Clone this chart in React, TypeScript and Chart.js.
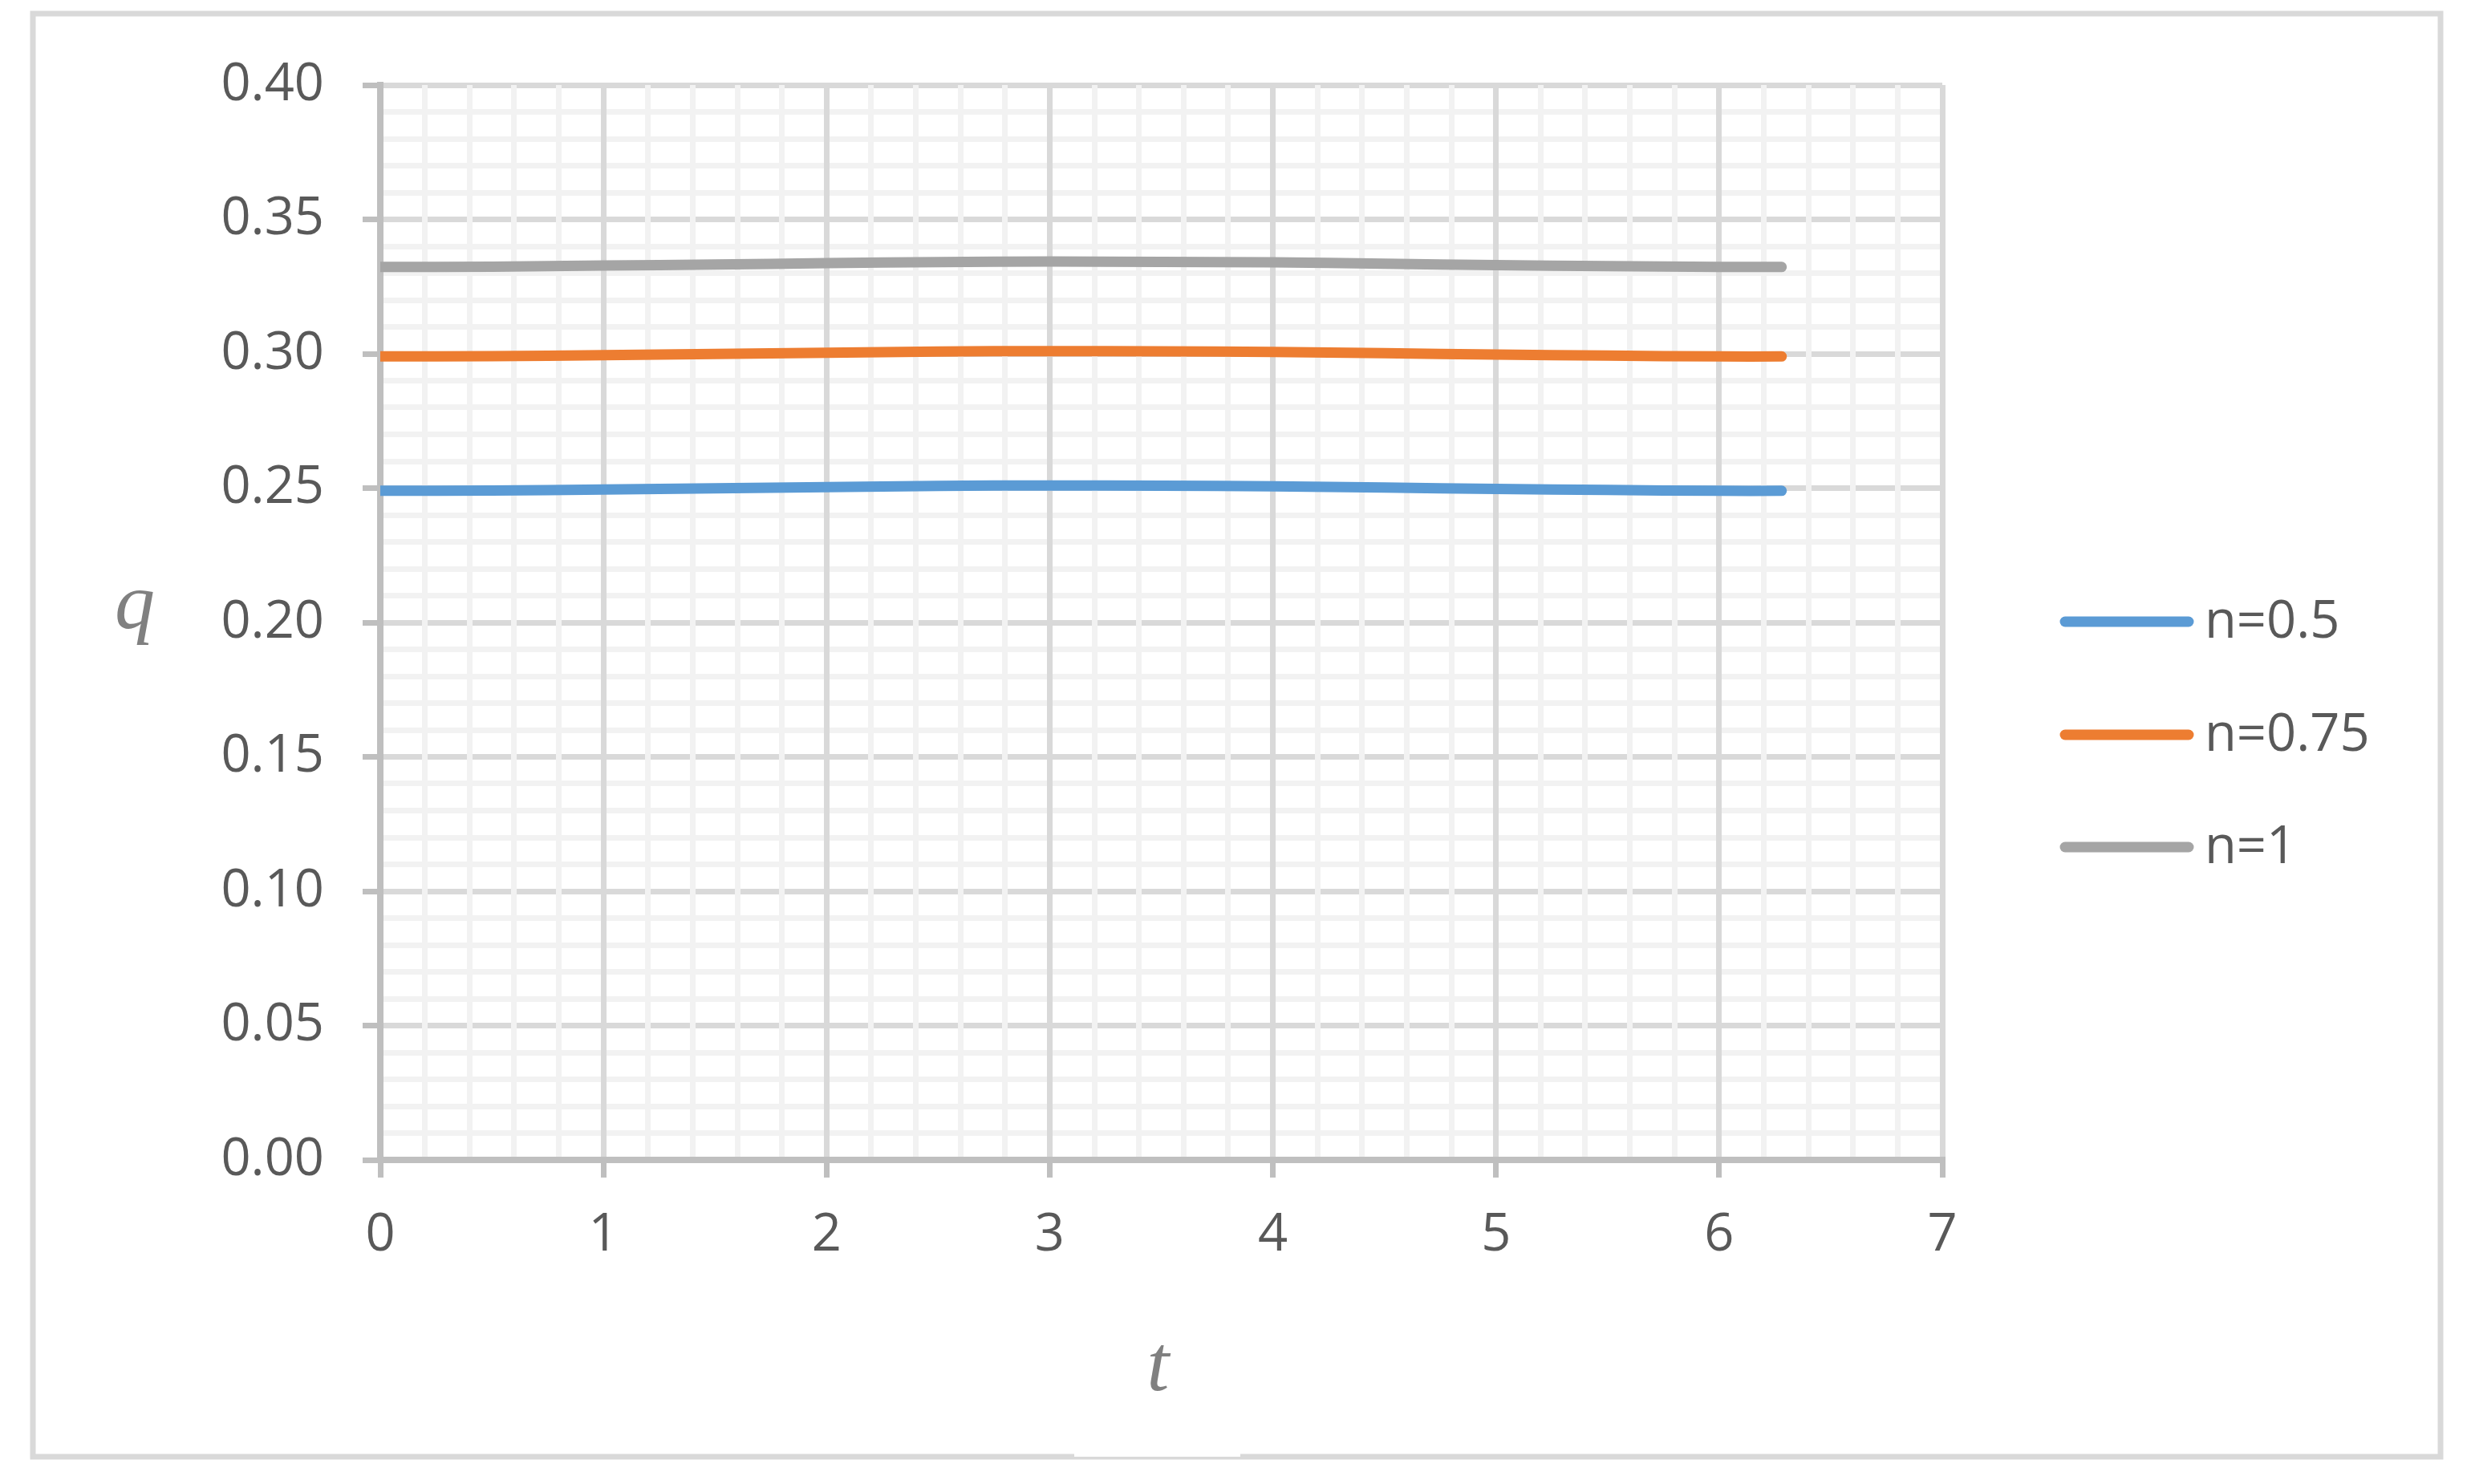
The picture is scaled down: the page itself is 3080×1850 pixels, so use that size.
import React, { useEffect, useRef } from "react";
import { Chart, registerables } from "chart.js";

Chart.register(...registerables);

// ---- data ----
const tValues = [0, 0.5, 1, 1.5, 2, 2.5, 3, 3.5, 4, 4.5, 5, 5.5, 6, 6.28];
const qN05 = [0.249, 0.2491, 0.2495, 0.2499, 0.2504, 0.2508, 0.251, 0.2509, 0.2507, 0.2502, 0.2497, 0.2493, 0.249, 0.249];
const qN075 = [0.299, 0.2991, 0.2995, 0.2999, 0.3004, 0.3008, 0.301, 0.3009, 0.3007, 0.3002, 0.2997, 0.2993, 0.299, 0.299];
const qN1 = [0.3323, 0.3324, 0.3328, 0.3332, 0.3337, 0.3341, 0.3343, 0.3342, 0.334, 0.3335, 0.333, 0.3326, 0.3323, 0.3323];
const seriesLabels = ["n=0.5", "n=0.75", "n=1"];
const seriesColors = ["#5b9bd5", "#ed7d31", "#a5a5a5"];
const seriesValues = [qN05, qN075, qN1];
const xAxisTitle = "t";
const yAxisTitle = "q";
const xMin = 0;
const xMax = 7;
const xMinorStep = 0.2;
const yMin = 0;
const yMax = 0.4;
const yMinorStep = 0.01;

const FONT = '"Open Sans", "Noto Sans", sans-serif';
const TEXT = "#595959";

const isMajorX = (v: number) => Math.abs(v - Math.round(v)) < 1e-6;
const isMajorY = (v: number) => Math.abs(Math.round(v * 100) % 5) === 0;

const decorPlugin = {
  id: "decor",
  beforeDraw(chart: any) {
    const ctx = chart.ctx as CanvasRenderingContext2D;
    ctx.save();
    ctx.fillStyle = "#ffffff";
    ctx.fillRect(0, 0, chart.width, chart.height);
    ctx.strokeStyle = "#d9d9d9";
    ctx.lineWidth = 7;
    ctx.strokeRect(41, 17, 3001, 1799);
    ctx.fillStyle = "#ffffff";
    ctx.fillRect(1339, 1811, 207, 5);
    ctx.restore();
  },
  afterDraw(chart: any) {
    const ctx = chart.ctx as CanvasRenderingContext2D;
    const area = chart.chartArea;
    ctx.save();
    // axis titles
    ctx.fillStyle = "#808080";
    ctx.font = 'italic 100px "Liberation Serif", serif';
    ctx.textAlign = "center";
    ctx.textBaseline = "alphabetic";
    ctx.fillText(xAxisTitle, (area.left + area.right) / 2 - 4, area.bottom + 287);
    ctx.fillText(yAxisTitle, area.left - 306, 783);
    // legend
    const rowsY = [775, 916, 1056];
    seriesLabels.forEach((lab, i) => {
      const y = rowsY[i];
      ctx.strokeStyle = seriesColors[i];
      ctx.lineWidth = 13;
      ctx.lineCap = "round";
      ctx.beginPath();
      ctx.moveTo(2574, y);
      ctx.lineTo(2728, y);
      ctx.stroke();
      ctx.fillStyle = TEXT;
      ctx.font = `65px ${FONT}`;
      ctx.textAlign = "left";
      ctx.textBaseline = "alphabetic";
      ctx.fillText(lab, 2748, y + 20);
    });
    ctx.restore();
  },
};

export default function App() {
  const canvasRef = useRef<HTMLCanvasElement | null>(null);

  useEffect(() => {
    document.body.style.margin = "0";
    const canvas = canvasRef.current;
    if (!canvas) return;
    let chart: Chart | null = null;
    let cancelled = false;

    const build = () => {
      if (cancelled) return;
      chart = new Chart(canvas, {
        type: "line",
        data: {
          datasets: seriesValues.map((vals, i) => ({
            label: seriesLabels[i],
            data: tValues.map((t, j) => ({ x: t, y: vals[j] })),
            borderColor: seriesColors[i],
            backgroundColor: seriesColors[i],
            borderWidth: 13,
            borderCapStyle: "round",
            borderJoinStyle: "round",
            pointRadius: 0,
            tension: 0.4,
            fill: false,
          })),
        },
        options: {
          responsive: false,
          maintainAspectRatio: false,
          animation: false,
          layout: { padding: { left: 0, top: 106, right: 659, bottom: 0 } },
          plugins: { legend: { display: false }, tooltip: { enabled: false } },
          scales: {
            x: {
              type: "linear",
              min: xMin,
              max: xMax,
              afterFit: (s: any) => {
                s.height = 404;
              },
              ticks: {
                stepSize: xMinorStep,
                autoSkip: false,
                maxRotation: 0,
                minRotation: 0,
                padding: 33,
                color: TEXT,
                font: { family: FONT, size: 65 },
                callback: (v: any) => (isMajorX(Number(v)) ? String(Math.round(Number(v))) : ""),
              },
              grid: {
                z: -1,
                lineWidth: 7,
                tickLength: 22,
                tickWidth: 7,
                color: (c: any) => (c.tick && !isMajorX(c.tick.value) ? "#f2f2f2" : "#d9d9d9"),
                tickColor: (c: any) => (c.tick && !isMajorX(c.tick.value) ? "rgba(0,0,0,0)" : "#bfbfbf"),
              },
              border: { color: "#bfbfbf", width: 8 },
            },
            y: {
              type: "linear",
              min: yMin,
              max: yMax,
              afterFit: (s: any) => {
                s.width = 474;
              },
              ticks: {
                stepSize: yMinorStep,
                autoSkip: false,
                padding: 48,
                color: TEXT,
                font: { family: FONT, size: 65 },
                callback: (v: any) => (isMajorY(Number(v)) ? Number(v).toFixed(2) : ""),
              },
              grid: {
                z: -2,
                lineWidth: 7,
                tickLength: 22,
                tickWidth: 7,
                color: (c: any) => (c.tick && !isMajorY(c.tick.value) ? "#f2f2f2" : "#d9d9d9"),
                tickColor: (c: any) => (c.tick && !isMajorY(c.tick.value) ? "rgba(0,0,0,0)" : "#bfbfbf"),
              },
              border: { color: "#bfbfbf", width: 8 },
            },
          },
        },
        plugins: [decorPlugin],
      } as any);
    };

    const fontsReady = (document as any).fonts
      ? Promise.all([
          (document as any).fonts.load(`65px "Open Sans"`),
          (document as any).fonts.load(`italic 100px "Liberation Serif"`),
        ]).catch(() => null)
      : Promise.resolve(null);
    fontsReady.then(build);

    return () => {
      cancelled = true;
      if (chart) chart.destroy();
    };
  }, []);

  return (
    <div style={{ width: 3080, height: 1850 }}>
      <canvas ref={canvasRef} width={3080} height={1850} style={{ display: "block", width: 3080, height: 1850 }} />
    </div>
  );
}
